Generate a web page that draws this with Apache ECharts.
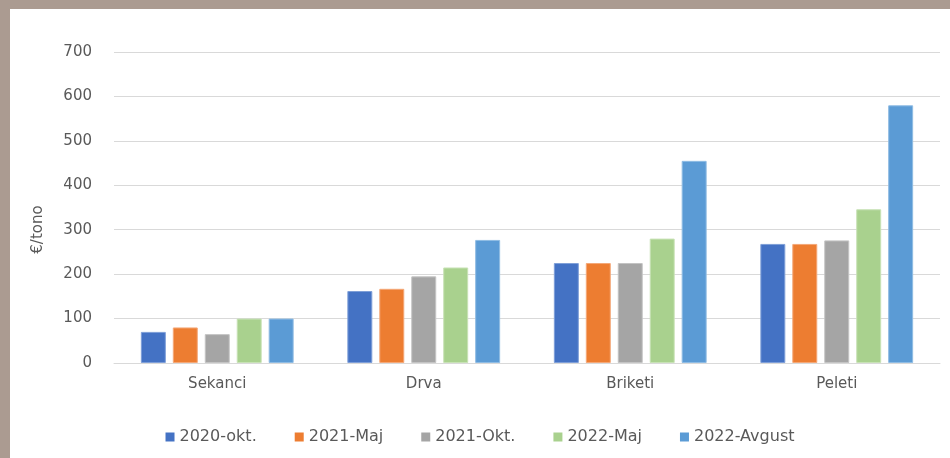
<!DOCTYPE html>
<html>
<head>
<meta charset="utf-8">
<script src="https://cdn.jsdelivr.net/npm/echarts@6/dist/echarts.min.js"></script>
<style>
  html, body { margin: 0; padding: 0; background: #ab9b91; }
  #chart { position: absolute; left: 10px; top: 9px; width: 940px; height: 449px; background: #fff; }
</style>
</head>
<body>
<div id="chart"></div>
<script>
// kategorije in serije
var categories = ['Sekanci', 'Drva', 'Briketi', 'Peleti'];
var seriesNames = ['2020-okt.', '2021-Maj', '2021-Okt.', '2022-Maj', '2022-Avgust'];
var okt2020 = [70, 162, 225, 268];
var maj2021 = [80, 167, 225, 268];
var okt2021 = [65, 195, 225, 276];
var maj2022 = [100, 215, 280, 346];
var avg2022 = [100, 277, 455, 580];
var colors = ['#4472C4', '#ED7D31', '#A5A5A5', '#A9D18E', '#5B9BD5'];
var borders = ['#7f9fd8', '#f4a878', '#c4c4c4', '#c8e2b6', '#8fbce4'];

var values = [okt2020, maj2021, okt2021, maj2022, avg2022];

var myChart = echarts.init(document.getElementById('chart'));

var series = [];
for (var i = 0; i < seriesNames.length; i++) {
  series.push({
    name: seriesNames[i],
    type: 'bar',
    data: values[i],
    barGap: '28%',
    barCategoryGap: '26%',
    itemStyle: { color: colors[i], borderColor: borders[i], borderWidth: 1 }
  });
}

var option = {
  animation: false,
  color: colors,
  textStyle: { fontFamily: 'DejaVu Sans, sans-serif' },
  grid: { left: 104, right: 10, top: 43, bottom: 95 },
  legend: {
    bottom: 8,
    left: 'center',
    itemWidth: 9,
    itemHeight: 9,
    itemGap: 38,
    icon: 'rect',
    itemStyle: { borderWidth: 0 },
    textStyle: { color: '#595959', fontSize: 16 },
    data: seriesNames
  },
  xAxis: {
    type: 'category',
    data: categories,
    axisLine: { lineStyle: { color: '#d9d9d9' } },
    axisTick: { show: false },
    axisLabel: { color: '#595959', fontSize: 15, margin: 14 }
  },
  yAxis: {
    type: 'value',
    min: 0,
    max: 700,
    interval: 100,
    name: '€/tono',
    nameLocation: 'middle',
    nameGap: 68,
    nameRotate: 90,
    nameTextStyle: { color: '#595959', fontSize: 15, padding: [0, 44, 0, 0] },
    axisLine: { show: false },
    axisTick: { show: false },
    axisLabel: { color: '#595959', fontSize: 15, margin: 22 },
    splitLine: { lineStyle: { color: '#d9d9d9', width: 1 } }
  },
  series: series
};

myChart.setOption(option);
window.addEventListener('resize', function () {
  myChart.resize();
});
</script>
</body>
</html>
